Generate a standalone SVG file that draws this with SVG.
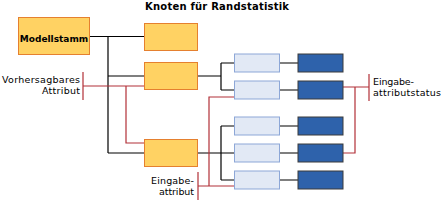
<svg xmlns="http://www.w3.org/2000/svg" width="441" height="201" viewBox="0 0 441 201">
<style>
.o{fill:#FFD263;stroke:#E5802F;stroke-width:1}
.l{fill:#E2E9F5;stroke:#8DA7D7;stroke-width:1}
.d{fill:#2E62AB;stroke:#3A3A3A;stroke-width:1}
.k{fill:none;stroke:#000;stroke-width:1.2}
.r{fill:none;stroke:#B23038;stroke-width:1.2}
text{font-family:"DejaVu Sans",Verdana,sans-serif;font-size:9.5px;fill:#000}
.b{font-weight:bold;font-size:9px}
.t{font-weight:bold;font-size:10px}
</style>
<rect width="441" height="201" fill="#fff"/>
<text class="t" x="145" y="9.5" textLength="144" lengthAdjust="spacing">Knoten für Randstatistik</text>
<g id="connectors">
<path class="k" d="M90,36.5H144M108,36.5V153M108,76H144M108,153H144"/>
<path class="k" d="M197,76H221M221,63V90M221,63H234M221,90H234"/>
<path class="k" d="M197,153H221M221,126V180M221,126H234M221,153H234M221,180H234"/>
<path class="k" d="M280,63H298M280,90H298M280,126H298M280,153H298M280,180H298"/>
<path class="r" d="M83,86H150M126,86V143H149"/>
<path class="r" d="M240,97H209V186M198,186H240"/>
<path class="r" d="M337,87H369M355,87V153H337"/>
<path class="r" d="M83,72V100M198,172V200M369,74V101"/>
</g>
<g id="modellstamm"><rect class="o" x="18.5" y="17.5" width="71" height="37"/><text class="b" x="54" y="41.5" text-anchor="middle">Modellstamm</text></g>
<g id="a1"><rect class="o" x="144.5" y="23.5" width="53" height="27"/></g>
<g id="a2"><rect class="o" x="144.5" y="62.5" width="53" height="27"/></g>
<g id="a3"><rect class="o" x="144.5" y="139.5" width="53" height="27"/></g>
<g id="l1"><rect class="l" x="234.5" y="54" width="45" height="18"/></g>
<g id="l2"><rect class="l" x="234.5" y="81" width="45" height="18"/></g>
<g id="l3"><rect class="l" x="234.5" y="117" width="45" height="18"/></g>
<g id="l4"><rect class="l" x="234.5" y="144" width="45" height="18"/></g>
<g id="l5"><rect class="l" x="234.5" y="171" width="45" height="18"/></g>
<g id="d1"><rect class="d" x="298" y="54" width="45" height="18"/></g>
<g id="d2"><rect class="d" x="298" y="81" width="45" height="18"/></g>
<g id="d3"><rect class="d" x="298" y="117" width="45" height="18"/></g>
<g id="d4"><rect class="d" x="298" y="144" width="45" height="18"/></g>
<g id="d5"><rect class="d" x="298" y="171" width="45" height="18"/></g>
<g id="lbl-vorhersagbar"><text x="2" y="83" textLength="78" lengthAdjust="spacing">Vorhersagbares</text><text x="42" y="94" textLength="38" lengthAdjust="spacing">Attribut</text></g>
<g id="lbl-eingabestatus"><text x="373" y="85" textLength="41" lengthAdjust="spacing">Eingabe-</text><text x="373" y="96" textLength="68" lengthAdjust="spacing">attributstatus</text></g>
<g id="lbl-eingabe"><text x="151" y="184" textLength="43" lengthAdjust="spacing">Eingabe-</text><text x="159" y="195" textLength="35" lengthAdjust="spacing">attribut</text></g>
</svg>
